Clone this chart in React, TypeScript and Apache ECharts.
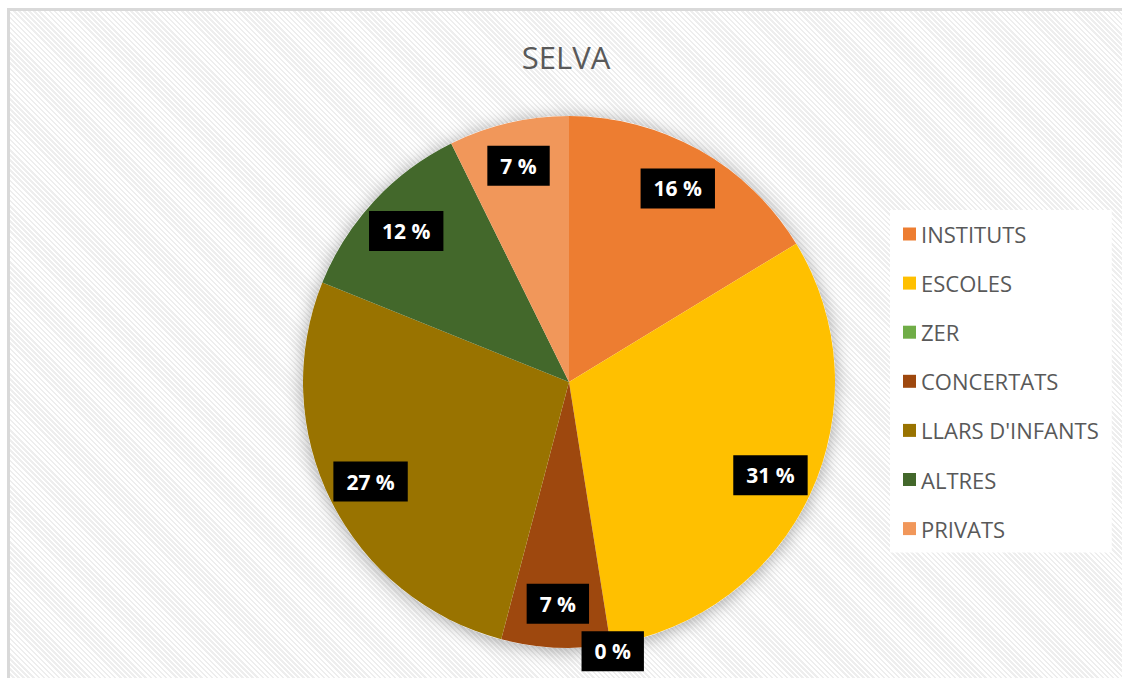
import React, { useEffect, useRef } from "react";
import * as echarts from "echarts";

const chartTitle = "SELVA";
const categories = ["INSTITUTS", "ESCOLES", "ZER", "CONCERTATS", "LLARS D'INFANTS", "ALTRES", "PRIVATS"];
const values = [16.3, 31.2, 0, 6.6, 27.0, 11.6, 7.3];
const colors = ["#ED7D31", "#FFC000", "#70AD47", "#9E480E", "#997300", "#43682B", "#F1975A"];

const FONT = "'Open Sans', sans-serif";

export default function App() {
  const ref = useRef<HTMLDivElement>(null);

  useEffect(() => {
    const chart = echarts.init(ref.current!, null, { renderer: "svg" });
    const center = [559, 371];
    const R = 266;
    const mainData = categories.map((name, i) => ({
      name,
      value: values[i],
      itemStyle: { color: colors[i] },
    }));
    const labelData = categories.map((name, i) => ({
      name,
      value: values[i],
      label: values[i] === 0 ? { offset: [9, 50] } : {},
    }));
    chart.setOption({
      animation: false,
      title: {
        text: chartTitle,
        left: "center",
        top: 25,
        textStyle: { fontFamily: FONT, fontSize: 31, fontWeight: "normal", color: "#595959" },
      },
      legend: {
        orient: "vertical",
        left: 880,
        top: 199,
        padding: [13, 13, 13, 13],
        backgroundColor: "#ffffff",
        itemWidth: 13,
        itemHeight: 13,
        itemGap: 27.1,
        icon: "rect",
        selectedMode: false,
        textStyle: { fontFamily: FONT, fontSize: 22, color: "#595959" },
        data: categories.map((name, i) => ({ name, itemStyle: { color: colors[i] } })),
      },
      series: [
        {
          type: "pie",
          silent: true,
          center,
          radius: R,
          z: 1,
          label: { show: false },
          labelLine: { show: false },
          data: [
            {
              name: "__shadow",
              value: 1,
              itemStyle: {
                color: "#ffffff",
                shadowBlur: 18,
                shadowColor: "rgba(0,0,0,0.35)",
                shadowOffsetY: 2,
              },
            },
          ],
        },
        {
          type: "pie",
          center,
          radius: R,
          z: 2,
          startAngle: 90,
          clockwise: true,
          label: { show: false },
          labelLine: { show: false },
          data: mainData,
        },
        {
          type: "pie",
          silent: true,
          center,
          radius: [172, R],
          z: 3,
          startAngle: 90,
          clockwise: true,
          itemStyle: { color: "rgba(0,0,0,0)" },
          labelLine: { show: false },
          label: {
            show: true,
            position: "inside",
            formatter: (p: any) => Math.round(p.percent) + " %",
            backgroundColor: "#000000",
            color: "#ffffff",
            fontFamily: FONT,
            fontWeight: "bold",
            fontSize: 21,
            padding: [10, 13, 9, 13],
          },
          data: labelData,
        },
      ],
    });
    return () => chart.dispose();
  }, []);

  return (
    <div
      style={{
        position: "absolute",
        left: 7,
        top: 8,
        width: 1115,
        height: 670,
        boxSizing: "border-box",
        borderTop: "3px solid #d9d9d9",
        borderLeft: "3px solid #d9d9d9",
        background:
          "repeating-linear-gradient(45deg, #ffffff 0px, #ffffff 1.8px, #eeeeee 1.8px, #eeeeee 3.6px)",
      }}
    >
      <div ref={ref} style={{ width: 1112, height: 667 }} />
    </div>
  );
}
